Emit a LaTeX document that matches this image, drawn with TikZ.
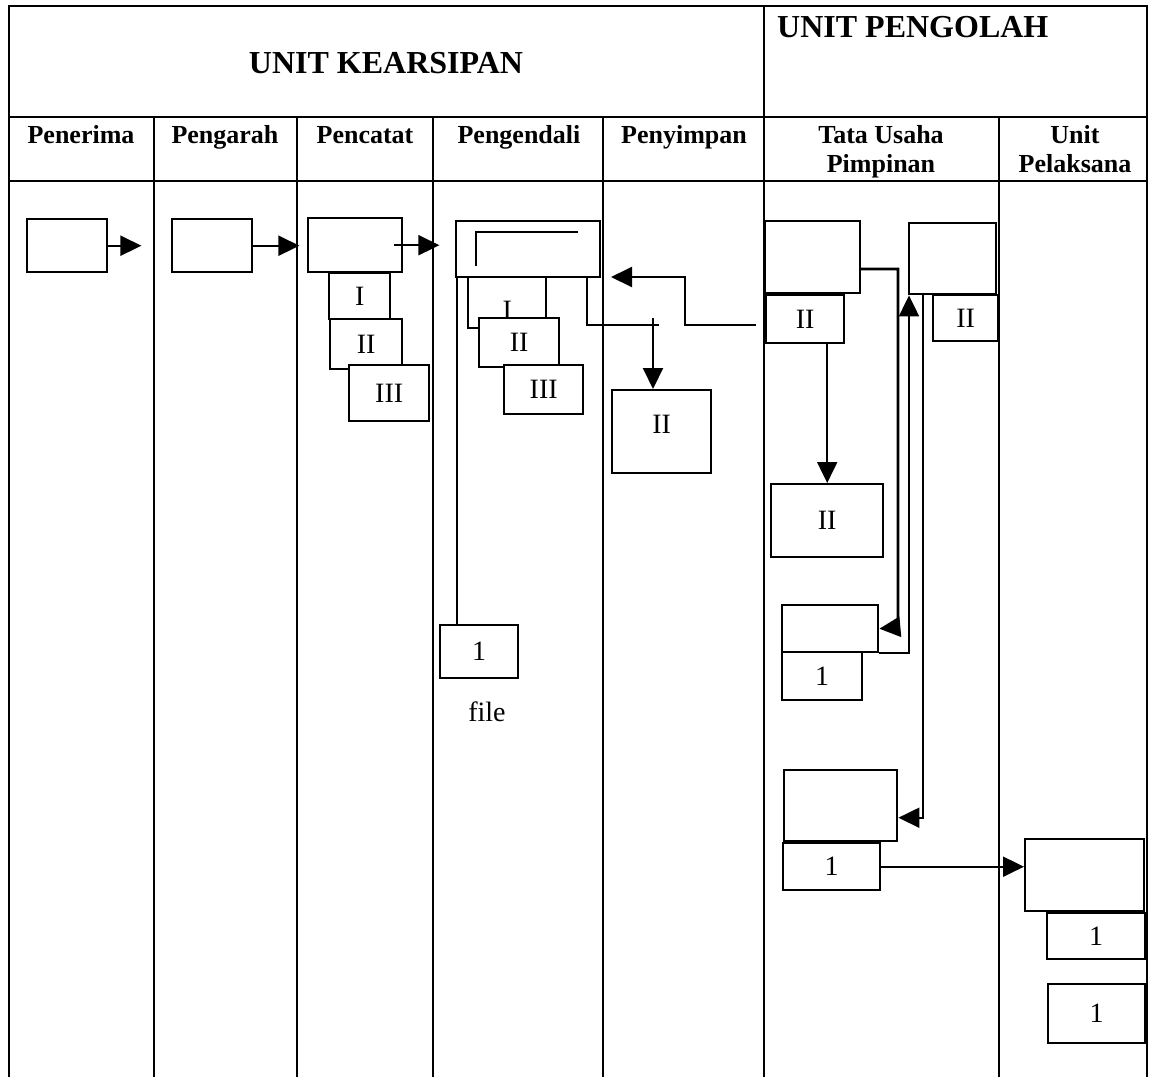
\documentclass[tikz,border=0pt]{standalone}
\usepackage{fontspec}
\setmainfont{Liberation Serif}
\usetikzlibrary{arrows.meta}
\newcommand{\hdrfont}{\fontsize{32}{36}\selectfont\bfseries}
\newcommand{\colfont}{\fontsize{26}{29}\selectfont\bfseries}
\newcommand{\labfont}{\fontsize{28}{30}\selectfont}
\newcommand{\bx}[6]{\node[box,minimum width=#4pt,minimum height=#5pt] (#1) at (#2,#3) {#6};}
\begin{document}
\begin{tikzpicture}[x=1pt,y=-1pt,
  box/.style={draw, line width=2.4pt, fill=white, inner sep=0pt, anchor=north west, font=\labfont},
  tbl/.style={line width=1.4pt},
  conn/.style={line width=2pt},
  arr/.style={conn, -{Triangle[length=21pt,width=20pt]}},
  hd/.style={font=\hdrfont, inner sep=0pt},
  ch/.style={font=\colfont, inner sep=0pt, align=center}]
\useasboundingbox (0,0) rectangle (1150,1077);
\fill[white] (0,0) rectangle (1150,1077);

% table
\draw[tbl] (9,1077) -- (9,6) -- (1147,6) -- (1147,1077);
\draw[tbl] (764,6) -- (764,1077);
\draw[tbl] (9,117) -- (1147,117);
\draw[tbl] (9,181) -- (1147,181);
\foreach \cx in {154,297,433,603,999} \draw[tbl] (\cx,117) -- (\cx,1077);

% headers
\node[hd, anchor=base] (hk) at (386,73) {UNIT KEARSIPAN};
\node[hd, anchor=base west] (hp) at (777,37) {UNIT PENGOLAH};
\node[ch, anchor=base] (c1) at (81,143) {Penerima};
\node[ch, anchor=base] (c2) at (225,143) {Pengarah};
\node[ch, anchor=base] (c3) at (365,143) {Pencatat};
\node[ch, anchor=base] (c4) at (519,143) {Pengendali};
\node[ch, anchor=base] (c5) at (684,143) {Penyimpan};
\node[ch, anchor=north] (c6) at (881,125) {Tata Usaha\\Pimpinan};
\node[ch, anchor=north] (c7) at (1075,125) {Unit\\Pelaksana};

% Penerima / Pengarah / Pencatat
\bx{pen}{26}{218}{80}{53}{}
\bx{pgr}{171}{218}{80}{53}{}
\bx{pc}{307}{217}{94}{54}{}
\bx{pcI}{328}{272}{61}{46}{I}
\bx{pcII}{329}{318}{72}{50}{II}
\bx{pcIII}{348}{364}{80}{56}{III}

% Pengendali
\bx{pg}{455}{220}{144}{56}{}
\draw[conn] (476,266) -- (476,232) -- (578,232);
\node[box,minimum width=78pt,minimum height=51pt,label={[font=\labfont,yshift=-8pt]center:I}] (pgI) at (467,276) {};
\bx{pgII}{478}{317}{80}{49}{II}
\bx{pgIII}{503}{364}{79}{49}{III}
\bx{fl}{439}{624}{78}{53}{1}
\node[font=\labfont] (fltxt) at (487,712) {file};

% Penyimpan
\node[box,minimum width=99pt,minimum height=83pt,label={[font=\labfont,yshift=7pt]center:II}] (ps) at (611,389) {};

% Tata Usaha Pimpinan
\bx{tuA}{764}{220}{95}{72}{}
\bx{tuII}{765}{294}{78}{48}{II}
\bx{upA}{908}{222}{87}{71}{}
\bx{upII}{932}{294}{65}{46}{II}
\bx{tuB}{770}{483}{112}{73}{II}
\bx{C}{781}{604}{96}{47}{}
\bx{Ca}{781}{651}{80}{48}{1}
\bx{D}{783}{769}{113}{71}{}
\bx{Da}{782}{842}{97}{47}{1}

% Unit Pelaksana
\bx{E}{1024}{838}{119}{72}{}
\bx{Ea}{1046}{912}{98}{46}{1}
\bx{F}{1047}{983}{97}{59}{1}

% connectors
\draw[arr] (pen.east) -- ++(33,0);
\draw[arr] (pgr.east) -- ++(46,0);
\draw[arr] ([xshift=-9pt]pc.east) -- ++(45,0);

\coordinate (fa) at (457,276);
\draw[conn] (fa) -- (fa |- fl.north);

\coordinate (pb) at (587,276);
\coordinate (pj) at (659,325);
\draw[conn] (pb) |- (pj);
\coordinate (ps0) at (653,318);
\draw[arr] (ps0) -- (ps0 |- ps.north);

\coordinate (tj) at (756,325);
\coordinate (tk) at (685,277);
\coordinate (tt) at (611,277);
\draw[arr] (tj) -| (tk) -- (tt);

\draw[arr] (tuII.south -| tuB.north) -- (tuB.north);

\coordinate (ta) at (859,269);
\coordinate (tb) at (898,627);
\draw[arr, line width=2.6pt] (ta) -| (tb) -- (C.east);

\draw[arr] (C.south east) -| ([xshift=1pt]upA.south west);
\draw[arr] ([xshift=15pt]upA.south west) |- ([yshift=-12pt]D.east);
\draw[arr] (Da.east) -- (Da.east -| E.west);
\end{tikzpicture}
\end{document}
